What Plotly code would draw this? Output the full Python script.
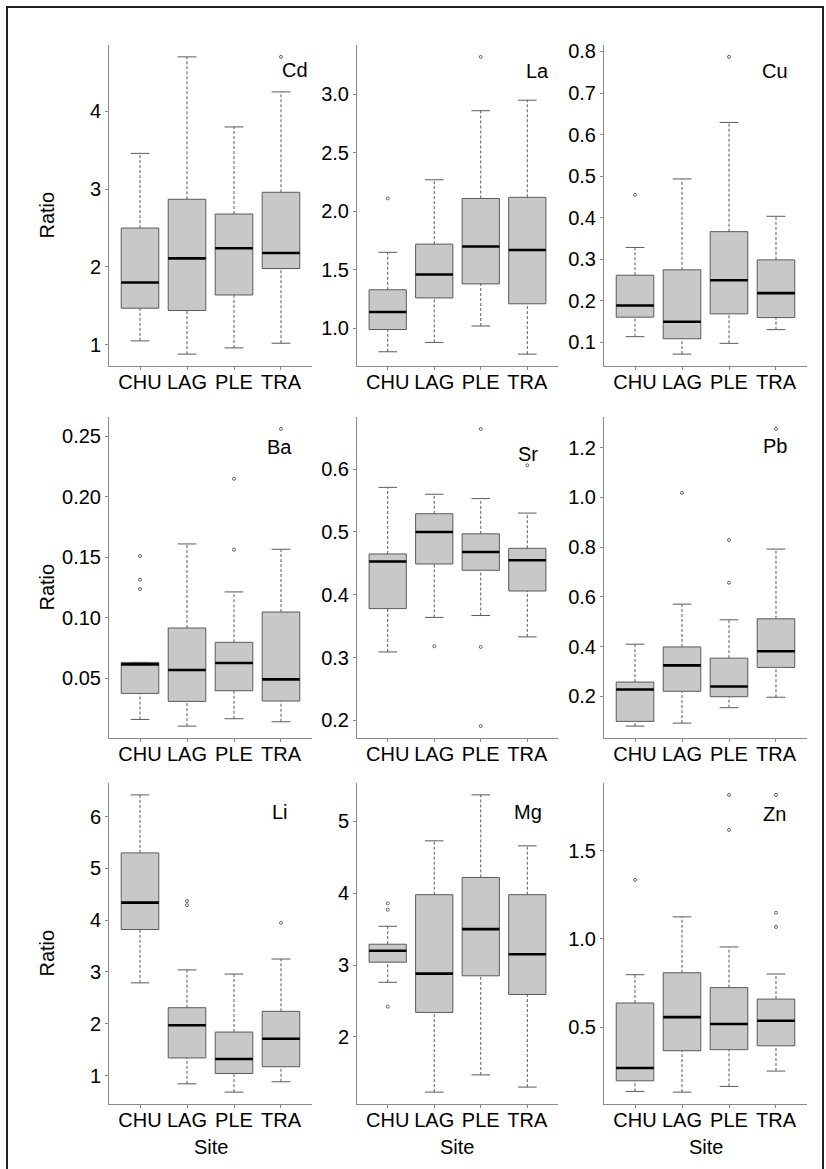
import plotly.graph_objects as go

W, H = 826, 1169

sites = ["CHU", "LAG", "PLE", "TRA"]
elements = ["Cd", "La", "Cu", "Ba", "Sr", "Pb", "Li", "Mg", "Zn"]

# ---- box statistics per element (order: CHU, LAG, PLE, TRA) ----
cd_lo = [1.05, 0.88, 0.96, 1.02]
cd_q1 = [1.47, 1.44, 1.64, 1.98]
cd_med = [1.80, 2.11, 2.24, 2.18]
cd_q3 = [2.50, 2.87, 2.68, 2.96]
cd_hi = [3.46, 4.70, 3.80, 4.25]
cd_out = [[], [], [], [4.70]]

la_lo = [0.80, 0.88, 1.02, 0.78]
la_q1 = [0.99, 1.26, 1.38, 1.21]
la_med = [1.14, 1.46, 1.70, 1.67]
la_q3 = [1.33, 1.72, 2.11, 2.12]
la_hi = [1.65, 2.27, 2.86, 2.95]
la_out = [[2.11], [], [3.32], []]

cu_lo = [0.113, 0.071, 0.097, 0.130]
cu_q1 = [0.160, 0.108, 0.168, 0.159]
cu_med = [0.188, 0.149, 0.249, 0.218]
cu_q3 = [0.261, 0.274, 0.366, 0.298]
cu_hi = [0.328, 0.493, 0.629, 0.403]
cu_out = [[0.455], [], [0.787], []]

ba_lo = [0.0161, 0.0106, 0.0167, 0.0142]
ba_q1 = [0.0376, 0.0310, 0.0398, 0.0313]
ba_med = [0.0616, 0.0569, 0.0627, 0.0492]
ba_q3 = [0.0632, 0.0916, 0.0798, 0.1048]
ba_hi = [0.0632, 0.1610, 0.1214, 0.1566]
ba_out = [[0.151, 0.1315, 0.1238], [], [0.2148, 0.1563], [0.256]]

sr_lo = [0.309, 0.364, 0.367, 0.333]
sr_q1 = [0.378, 0.449, 0.439, 0.406]
sr_med = [0.453, 0.500, 0.468, 0.455]
sr_q3 = [0.465, 0.529, 0.497, 0.474]
sr_hi = [0.571, 0.560, 0.553, 0.530]
sr_out = [[], [0.318], [0.664, 0.317, 0.191], [0.606]]

pb_lo = [0.081, 0.093, 0.155, 0.197]
pb_q1 = [0.100, 0.221, 0.199, 0.317]
pb_med = [0.228, 0.325, 0.240, 0.382]
pb_q3 = [0.258, 0.399, 0.354, 0.512]
pb_hi = [0.410, 0.571, 0.508, 0.792]
pb_out = [[], [1.018], [0.829, 0.657], [1.275]]

li_lo = [2.79, 0.84, 0.68, 0.88]
li_q1 = [3.82, 1.34, 1.04, 1.17]
li_med = [4.34, 1.97, 1.32, 1.71]
li_q3 = [5.30, 2.31, 1.84, 2.24]
li_hi = [6.42, 3.04, 2.96, 3.25]
li_out = [[], [4.37, 4.29], [], [3.95]]

mg_lo = [2.76, 1.23, 1.47, 1.30]
mg_q1 = [3.04, 2.34, 2.85, 2.59]
mg_med = [3.20, 2.88, 3.50, 3.15]
mg_q3 = [3.29, 3.98, 4.22, 3.98]
mg_hi = [3.54, 4.73, 5.37, 4.66]
mg_out = [[3.86, 3.77, 2.42], [], [], []]

zn_lo = [0.138, 0.134, 0.166, 0.253]
zn_q1 = [0.198, 0.368, 0.374, 0.396]
zn_med = [0.270, 0.558, 0.519, 0.538]
zn_q3 = [0.638, 0.809, 0.725, 0.660]
zn_hi = [0.798, 1.125, 0.955, 0.802]
zn_out = [[1.334], [], [1.815, 1.617], [1.815, 1.149, 1.068]]

# ---- y tick values / labels ----
cd_ticks = [1, 2, 3, 4]
cd_ticktext = ["1", "2", "3", "4"]
la_ticks = [1.0, 1.5, 2.0, 2.5, 3.0]
la_ticktext = ["1.0", "1.5", "2.0", "2.5", "3.0"]
cu_ticks = [0.1, 0.2, 0.3, 0.4, 0.5, 0.6, 0.7, 0.8]
cu_ticktext = ["0.1", "0.2", "0.3", "0.4", "0.5", "0.6", "0.7", "0.8"]
ba_ticks = [0.05, 0.10, 0.15, 0.20, 0.25]
ba_ticktext = ["0.05", "0.10", "0.15", "0.20", "0.25"]
sr_ticks = [0.2, 0.3, 0.4, 0.5, 0.6]
sr_ticktext = ["0.2", "0.3", "0.4", "0.5", "0.6"]
pb_ticks = [0.2, 0.4, 0.6, 0.8, 1.0, 1.2]
pb_ticktext = ["0.2", "0.4", "0.6", "0.8", "1.0", "1.2"]
li_ticks = [1, 2, 3, 4, 5, 6]
li_ticktext = ["1", "2", "3", "4", "5", "6"]
mg_ticks = [2, 3, 4, 5]
mg_ticktext = ["2", "3", "4", "5"]
zn_ticks = [0.5, 1.0, 1.5]
zn_ticktext = ["0.5", "1.0", "1.5"]

panels = [
    (cd_lo, cd_q1, cd_med, cd_q3, cd_hi, cd_out, cd_ticks, cd_ticktext),
    (la_lo, la_q1, la_med, la_q3, la_hi, la_out, la_ticks, la_ticktext),
    (cu_lo, cu_q1, cu_med, cu_q3, cu_hi, cu_out, cu_ticks, cu_ticktext),
    (ba_lo, ba_q1, ba_med, ba_q3, ba_hi, ba_out, ba_ticks, ba_ticktext),
    (sr_lo, sr_q1, sr_med, sr_q3, sr_hi, sr_out, sr_ticks, sr_ticktext),
    (pb_lo, pb_q1, pb_med, pb_q3, pb_hi, pb_out, pb_ticks, pb_ticktext),
    (li_lo, li_q1, li_med, li_q3, li_hi, li_out, li_ticks, li_ticktext),
    (mg_lo, mg_q1, mg_med, mg_q3, mg_hi, mg_out, mg_ticks, mg_ticktext),
    (zn_lo, zn_q1, zn_med, zn_q3, zn_hi, zn_out, zn_ticks, zn_ticktext),
]

# ---- layout geometry (pixels) ----
col_px = [(109, 312), (357, 558), (604, 807)]
row_px = [(45, 366), (417, 738), (783, 1104)]
# element label positions within each axis (domain fractions)
label_pos = [(0.916, 0.922), (0.896, 0.919), (0.842, 0.919),
             (0.842, 0.907), (0.851, 0.885), (0.842, 0.910),
             (0.842, 0.910), (0.851, 0.910), (0.842, 0.903)]

FONT = "Liberation Sans, Arial, Helvetica, sans-serif"
FS = 20
BOX_FILL = "#c8c8c8"
BOX_LINE = "#5a5a5a"
AX_COL = "#8a8a8a"

fig = go.Figure()
layout = dict(
    width=W, height=H, margin=dict(l=0, r=0, t=0, b=0, autoexpand=False),
    paper_bgcolor="white", plot_bgcolor="white",
    showlegend=False, font=dict(family=FONT, size=FS, color="black"),
    annotations=[], shapes=[],
)

xpos = [1, 2, 3, 4]
for k, (lo, q1, med, q3, hi, out, tv, tt) in enumerate(panels):
    r, c = divmod(k, 3)
    sfx = "" if k == 0 else str(k + 1)
    xa, ya = "x" + sfx, "y" + sfx

    # whiskers (dashed)
    wx, wy = [], []
    for i in range(4):
        wx += [xpos[i], xpos[i], None, xpos[i], xpos[i], None]
        wy += [lo[i], q1[i], None, q3[i], hi[i], None]
    fig.add_trace(go.Scatter(x=wx, y=wy, xaxis=xa, yaxis=ya, mode="lines",
                             line=dict(color=BOX_LINE, width=1, dash="3px,2px"),
                             hoverinfo="skip"))
    # caps (solid)
    cx, cy = [], []
    for i in range(4):
        cx += [xpos[i] - 0.2, xpos[i] + 0.2, None, xpos[i] - 0.2, xpos[i] + 0.2, None]
        cy += [lo[i], lo[i], None, hi[i], hi[i], None]
    fig.add_trace(go.Scatter(x=cx, y=cy, xaxis=xa, yaxis=ya, mode="lines",
                             line=dict(color=BOX_LINE, width=1), hoverinfo="skip"))
    # boxes
    fig.add_trace(go.Box(x=xpos, q1=q1, median=med, q3=q3, lowerfence=q1,
                         upperfence=q3, width=0.8, xaxis=xa, yaxis=ya,
                         fillcolor=BOX_FILL, line=dict(color=BOX_LINE, width=1),
                         whiskerwidth=0, hoverinfo="skip"))
    # medians (thick black)
    mx, my = [], []
    for i in range(4):
        mx += [xpos[i] - 0.4, xpos[i] + 0.4, None]
        my += [med[i], med[i], None]
    fig.add_trace(go.Scatter(x=mx, y=my, xaxis=xa, yaxis=ya, mode="lines",
                             line=dict(color="black", width=2.6), hoverinfo="skip"))
    # outliers
    ox, oy = [], []
    for i in range(4):
        for v in out[i]:
            ox.append(xpos[i])
            oy.append(v)
    fig.add_trace(go.Scatter(x=ox, y=oy, xaxis=xa, yaxis=ya, mode="markers",
                             marker=dict(symbol="circle-open", size=3, color="#666666",
                                         line=dict(width=1)),
                             hoverinfo="skip"))

    allv = lo + hi + [v for o in out for v in o]
    vmin, vmax = min(allv), max(allv)
    pad = 0.04 * (vmax - vmin)

    x0, x1 = col_px[c]
    y0, y1 = row_px[r]
    layout["xaxis" + sfx] = dict(
        domain=[x0 / W, x1 / W], anchor=ya, range=[0.34, 4.66],
        tickvals=xpos, ticktext=sites, showline=True, linecolor=AX_COL,
        linewidth=1, ticks="outside", ticklen=3, tickcolor=AX_COL,
        showgrid=False, zeroline=False, tickangle=0, automargin=False,
        ticklabelstandoff=-5,
        tickfont=dict(family=FONT, size=FS, color="black"))
    layout["yaxis" + sfx] = dict(
        domain=[1 - y1 / H, 1 - y0 / H], anchor=xa,
        range=[vmin - pad, vmax + pad], tickvals=tv, ticktext=tt,
        showline=True, linecolor=AX_COL, linewidth=1, ticks="outside",
        ticklen=3, tickcolor=AX_COL, showgrid=False, zeroline=False,
        automargin=False,
        tickfont=dict(family=FONT, size=FS, color="black"))

    lx, ly = label_pos[k]
    layout["annotations"].append(dict(
        text=elements[k], x=lx, y=ly, xref=xa + " domain", yref=ya + " domain",
        showarrow=False, xanchor="center", yanchor="middle",
        font=dict(family=FONT, size=FS, color="black")))

# Ratio labels (left of each row)
for r, (y0, y1) in enumerate(row_px):
    layout["annotations"].append(dict(
        text="Ratio", x=46 / W, y=1 - ((y0 + y1) / 2 + 10) / H,
        xref="paper", yref="paper", showarrow=False, textangle=-90,
        xanchor="center", yanchor="middle",
        font=dict(family=FONT, size=FS, color="black")))

# Site labels (below bottom row)
for c, (x0, x1) in enumerate(col_px):
    layout["annotations"].append(dict(
        text="Site", x=(x0 + x1) / 2 / W, y=1 - 1147 / H,
        xref="paper", yref="paper", showarrow=False,
        xanchor="center", yanchor="middle",
        font=dict(family=FONT, size=FS, color="black")))

# outer frame
layout["shapes"].append(dict(
    type="rect", xref="paper", yref="paper",
    x0=7 / W, x1=823 / W, y0=-0.02, y1=1 - 7 / H,
    line=dict(color="#222222", width=2), fillcolor="rgba(0,0,0,0)"))

fig.update_layout(**layout)
fig.write_html(
    "out.html",
    config={"displayModeBar": False, "staticPlot": True},
    post_script="document.body.style.margin='0px';document.body.style.overflow='hidden';",
)
